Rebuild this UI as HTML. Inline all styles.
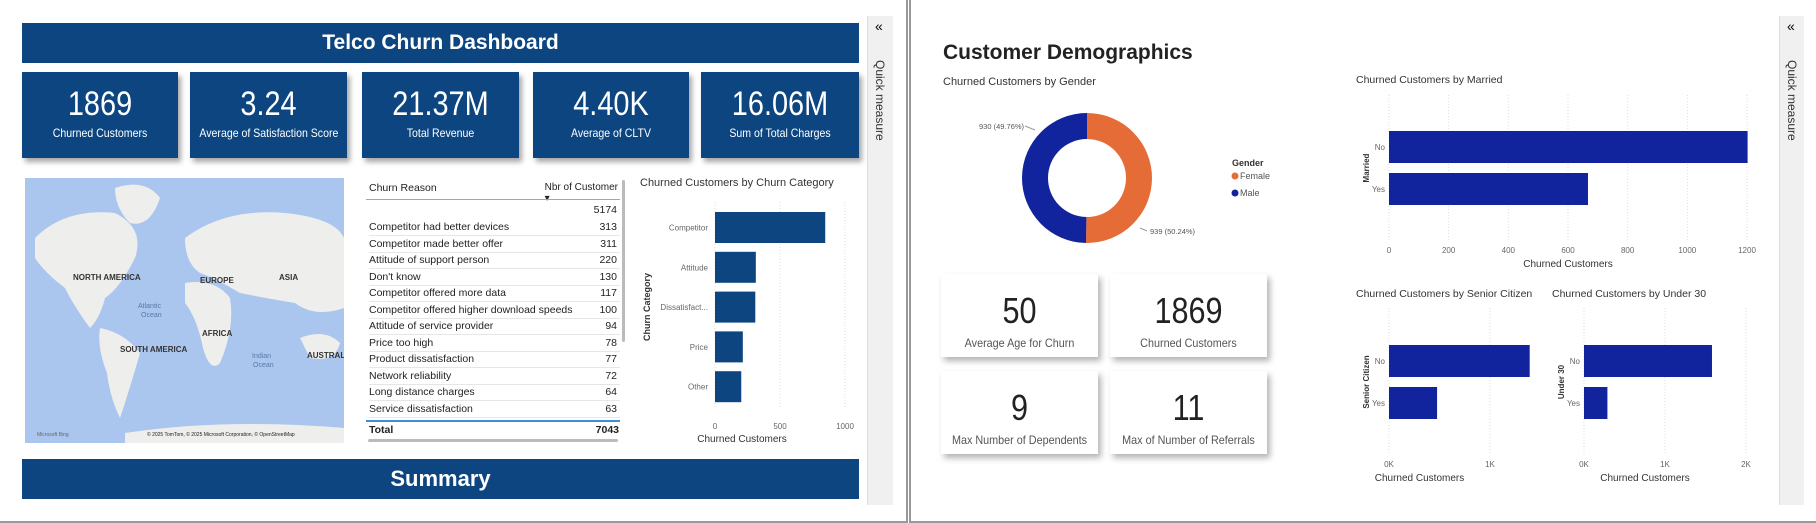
<!DOCTYPE html>
<html><head><meta charset="utf-8"><style>
body{margin:0;width:1816px;height:523px;background:#fff;position:relative;overflow:hidden;font-family:"Liberation Sans",sans-serif;}
.a{position:absolute;white-space:nowrap;}
.bar{background:#0c4580;color:#fff;text-align:center;font-weight:bold;}
.kpi{background:#0c4580;color:#fff;text-align:center;box-shadow:3px 4px 5px rgba(0,0,0,.35);}
.kpi .v{font-size:34px;margin-top:12px;line-height:40px;transform:scaleX(.85);}
.kpi .l{font-size:12px;margin-top:2px;transform:scaleX(.88);}
.wk{background:#fff;text-align:center;box-shadow:3px 4px 6px rgba(0,0,0,.3);color:#222;}
.wk .v{font-size:36px;margin-top:16px;line-height:42px;transform:scaleX(.85);}
.wk .l{font-size:12px;color:#555;margin-top:4px;transform:scaleX(.9);}
.qm{background:#f0f0f0;border-left:1px solid #ddd;}
.qm span{position:absolute;left:5px;top:44px;writing-mode:vertical-rl;font-size:12px;color:#333;}
.tr{font-size:10.5px;color:#222;}
</style></head><body>
<div class="a" style="left:0;top:0;width:906px;height:521px;border-right:2px solid #999;border-bottom:2px solid #999;"></div>
<div class="a" style="left:909px;top:0;width:905px;height:521px;border-left:2px solid #999;border-bottom:2px solid #999;border-right:2px solid #999;"></div>

<div class="a bar" style="left:22px;top:23px;width:837px;height:40px;line-height:40px;font-size:21px;">Telco Churn Dashboard</div>
<div class="a kpi" style="left:22px;top:72px;width:156px;height:86px;"><div class="v">1869</div><div class="l">Churned Customers</div></div>
<div class="a kpi" style="left:190px;top:72px;width:157px;height:86px;"><div class="v">3.24</div><div class="l">Average of Satisfaction Score</div></div>
<div class="a kpi" style="left:362px;top:72px;width:157px;height:86px;"><div class="v">21.37M</div><div class="l">Total Revenue</div></div>
<div class="a kpi" style="left:533px;top:72px;width:156px;height:86px;"><div class="v">4.40K</div><div class="l">Average of CLTV</div></div>
<div class="a kpi" style="left:701px;top:72px;width:158px;height:86px;"><div class="v">16.06M</div><div class="l">Sum of Total Charges</div></div>

<svg class="a" style="left:25px;top:178px" width="319" height="265">
<rect width="319" height="265" fill="#abc6ee"/>
<path d="M10 60 Q40 30 90 35 Q120 50 110 80 Q95 110 80 120 Q75 140 65 150 Q50 130 40 110 Q20 95 10 80Z" fill="#eeeeec"/>
<path d="M90 10 Q120 0 135 20 Q125 50 105 45 Q90 30 90 10Z" fill="#eeeeec"/>
<path d="M75 150 Q100 155 115 175 Q105 210 95 240 Q85 220 82 195 Q72 170 75 150Z" fill="#eeeeec"/>
<path d="M160 60 Q200 30 260 35 Q310 40 319 60 L319 130 Q290 140 270 125 Q240 120 215 115 Q190 100 175 95 Q160 85 160 60Z" fill="#eeeeec"/>
<path d="M160 105 Q190 100 205 120 Q210 150 195 185 Q185 195 178 170 Q172 140 160 125Z" fill="#eeeeec"/>
<path d="M275 160 Q300 150 315 165 Q310 185 285 180Z" fill="#eeeeec"/>
<path d="M100 255 Q200 240 319 250 L319 265 L100 265Z" fill="#eeeeec"/>
<g font-size="8" fill="#333" font-weight="bold">
<text x="48" y="102">NORTH AMERICA</text><text x="175" y="105">EUROPE</text><text x="254" y="102">ASIA</text>
<text x="177" y="158">AFRICA</text><text x="95" y="174">SOUTH AMERICA</text><text x="282" y="180">AUSTRALI</text></g>
<g font-size="7" fill="#5577aa"><text x="113" y="130">Atlantic</text><text x="116" y="139">Ocean</text><text x="227" y="180">Indian</text><text x="228" y="189">Ocean</text></g>
<text x="12" y="258" font-size="5" fill="#666">Microsoft Bing</text>
<text x="122" y="258" font-size="5" fill="#222">© 2025 TomTom, © 2025 Microsoft Corporation, © OpenStreetMap</text>
</svg>

<div class="a" style="left:366px;top:180px;width:256px;height:262px;">
<div class="a tr" style="left:3px;top:2px;">Churn Reason</div>
<div class="a tr" style="right:4px;top:2px;line-height:11px;font-size:10px;">Nbr of Customer<br>▾</div>
<div class="a" style="left:0;top:19px;width:254px;height:1px;background:#7aaee8"></div>
<div id="rows"></div>
<div class="a" style="left:0;top:240px;width:254px;height:2px;background:#3c8ee0"></div>
<div class="a tr" style="left:3px;top:244px;font-weight:bold;">Total</div>
<div class="a tr" style="right:3px;top:244px;font-weight:bold;">7043</div>
<div class="a" style="left:2px;top:259px;width:250px;height:3px;background:#bbb;border-radius:2px"></div>
<div class="a" style="left:256px;top:0;width:3px;height:162px;background:#bbb;border-radius:2px"></div>
</div>

<svg class="a" id="cat" style="left:630px;top:172px" width="230" height="275"></svg>

<div class="a bar" style="left:22px;top:459px;width:837px;height:40px;line-height:40px;font-size:22px;">Summary</div>

<div class="a qm" style="left:867px;top:16px;width:25px;height:489px;"><div class="a" style="left:7px;top:2px;font-size:14px;">«</div><span>Quick measure</span></div>
<div class="a qm" style="left:1779px;top:16px;width:24px;height:489px;"><div class="a" style="left:7px;top:2px;font-size:14px;">«</div><span>Quick measure</span></div>

<div class="a" style="left:943px;top:41px;font-size:21px;font-weight:bold;color:#222;">Customer Demographics</div>
<div class="a" style="left:943px;top:76px;font-size:11px;color:#333;">Churned Customers by Gender</div>
<svg class="a" id="donut" style="left:940px;top:100px" width="360" height="160"></svg>

<div class="a wk" style="left:941px;top:274px;width:157px;height:83px;"><div class="v">50</div><div class="l">Average Age for Churn</div></div>
<div class="a wk" style="left:1110px;top:274px;width:157px;height:83px;"><div class="v">1869</div><div class="l">Churned Customers</div></div>
<div class="a wk" style="left:941px;top:371px;width:157px;height:83px;"><div class="v">9</div><div class="l">Max Number of Dependents</div></div>
<div class="a wk" style="left:1110px;top:371px;width:157px;height:83px;"><div class="v">11</div><div class="l">Max of Number of Referrals</div></div>

<svg class="a" id="hb" style="left:0;top:0" width="1816" height="523"></svg>

<script>
const NS="http://www.w3.org/2000/svg";
function mk(p,t,a,txt){const e=document.createElementNS(NS,t);for(const k in a)e.setAttribute(k,a[k]);if(txt!==undefined)e.textContent=txt;p.appendChild(e);return e;}

const reasons=["","Competitor had better devices","Competitor made better offer","Attitude of support person","Don't know","Competitor offered more data","Competitor offered higher download speeds","Attitude of service provider","Price too high","Product dissatisfaction","Network reliability","Long distance charges","Service dissatisfaction"];
const reasonCounts=[5174,313,311,220,130,117,100,94,78,77,72,64,63];
const categories=["Competitor","Attitude","Dissatisfact...","Price","Other"];
const categoryValues=[848,314,310,214,202];
const catTicks=[0,500,1000];
const genders=["Female","Male"];
const genderValues=[939,930];
const marriedCats=["No","Yes"];
const marriedValues=[1202,667];
const marriedTicks=[0,200,400,600,800,1000,1200];
const seniorCats=["No","Yes"];
const seniorValues=[1393,476];
const seniorTicks=[0,1000];
const under30Cats=["No","Yes"];
const under30Values=[1580,289];
const under30Ticks=[0,1000,2000];

const rows=document.getElementById('rows');
reasons.forEach((r,i)=>{
  const y=22+(i==0?0:17+(i-1)*16.5);
  const d=document.createElement('div');d.className='a tr';d.style.cssText=`left:3px;top:${y}px;width:251px;height:16px;line-height:16px;`+(i>0?'border-bottom:1px solid #e6e6e6;':'');
  
  
  d.innerHTML=`<span>${r}</span><span style="position:absolute;right:3px">${reasonCounts[i]}</span>`;
  rows.appendChild(d);
});

(function(){
 const s=document.getElementById('cat');
 const x0=85,sc=130/1000,y0=40,step=39.8,bh=31;
 mk(s,'text',{x:10,y:14,'font-size':11,fill:'#333'},'Churned Customers by Churn Category');
 catTicks.forEach(t=>{const x=x0+t*sc;mk(s,'line',{x1:x,x2:x,y1:30,y2:235,stroke:'#ddd','stroke-dasharray':'1,2'});mk(s,'text',{x:x,y:257,'font-size':8,fill:'#666','text-anchor':'middle'},t);});
 categories.forEach((c,i)=>{const y=y0+i*step;
  const r=mk(s,'rect',{x:x0,y:y,width:categoryValues[i]*sc,height:bh,fill:'#0c4580'});
  
  
  mk(s,'text',{x:x0-7,y:y+bh/2+3,'font-size':8,fill:'#666','text-anchor':'end'},c);});
 mk(s,'text',{x:112,y:270,'font-size':10,fill:'#333','text-anchor':'middle'},'Churned Customers');
 mk(s,'text',{x:0,y:0,'font-size':9,fill:'#333','font-weight':'bold',transform:'translate(20,135) rotate(-90)','text-anchor':'middle'},'Churn Category');
})();

(function(){
 const s=document.getElementById('donut');
 const cx=147,cy=78,R=65,r=39,tot=genderValues.reduce((a,b)=>a+b,0);
 const cols=['#e66c37','#12239e'];let a=-Math.PI/2;
 genderValues.forEach((v,i)=>{const b=a+v/tot*2*Math.PI;const lg=(b-a)>Math.PI?1:0;
  const p=(rad,an)=>[cx+rad*Math.cos(an),cy+rad*Math.sin(an)];
  const [x1,y1]=p(R,a),[x2,y2]=p(R,b),[x3,y3]=p(r,b),[x4,y4]=p(r,a);
  const e=mk(s,'path',{d:`M${x1} ${y1}A${R} ${R} 0 ${lg} 1 ${x2} ${y2}L${x3} ${y3}A${r} ${r} 0 ${lg} 0 ${x4} ${y4}Z`,fill:cols[i]});
  
  
  a=b;});
 mk(s,'text',{x:210,y:134,'font-size':7.5,fill:'#555'},genderValues[0]+' ('+(genderValues[0]/tot*100).toFixed(2)+'%)');
 mk(s,'line',{x1:200,y1:128,x2:207,y2:131,stroke:'#999'});
 mk(s,'text',{x:39,y:29,'font-size':7.5,fill:'#555'},genderValues[1]+' ('+(genderValues[1]/tot*100).toFixed(2)+'%)');
 mk(s,'line',{x1:85,y1:26,x2:95,y2:30,stroke:'#999'});
 mk(s,'text',{x:292,y:66,'font-size':9,fill:'#333','font-weight':'bold'},'Gender');
 genders.forEach((g,i)=>{mk(s,'circle',{cx:295,cy:76+i*17,r:3.5,fill:cols[i]});mk(s,'text',{x:300,y:79+i*17,'font-size':9,fill:'#555'},g);});
})();

function hbar(title,tx,ty,x0,x1,maxT,ticks,cats,vals,yTop,axisTitle,tickFmt,yTitle,gTop,gBot,tickY,name){
 const s=document.getElementById('hb');const sc=(x1-x0)/maxT;
 mk(s,'text',{x:tx,y:ty,'font-size':10.5,fill:'#333'},title);
 ticks.forEach(t=>{const x=x0+t*sc;mk(s,'line',{x1:x,x2:x,y1:gTop,y2:gBot,stroke:'#ddd','stroke-dasharray':'1,2'});mk(s,'text',{x:x,y:tickY,'font-size':8,fill:'#666','text-anchor':'middle'},tickFmt(t));});
 cats.forEach((c,i)=>{const y=yTop+i*42;
  const r=mk(s,'rect',{x:x0,y:y,width:vals[i]*sc,height:32,fill:'#12239e'});
  
  
  mk(s,'text',{x:x0-4,y:y+19,'font-size':8,fill:'#666','text-anchor':'end'},c);});
 mk(s,'text',{x:(x0+x1)/2+(name=='married'?0:-20),y:tickY+14,'font-size':10,fill:'#333','text-anchor':'middle'},axisTitle);
 mk(s,'text',{x:0,y:0,'font-size':8,fill:'#333','font-weight':'bold','text-anchor':'middle',transform:`translate(${x0-20},${yTop+37}) rotate(-90)`},yTitle);
}
hbar('Churned Customers by Married',1356,83,1389,1747,1200,marriedTicks,marriedCats,marriedValues,131,'Churned Customers',t=>t,'Married',95,242,253,'married');
hbar('Churned Customers by Senior Citizen',1356,297,1389,1490,1000,seniorTicks,seniorCats,seniorValues,345,'Churned Customers',t=>(t/1000)+'K','Senior Citizen',308,455,467,'senior');
hbar('Churned Customers by Under 30',1552,297,1584,1746,2000,under30Ticks,under30Cats,under30Values,345,'Churned Customers',t=>(t/1000)+'K','Under 30',308,455,467,'under30');
</script>
</body></html>
